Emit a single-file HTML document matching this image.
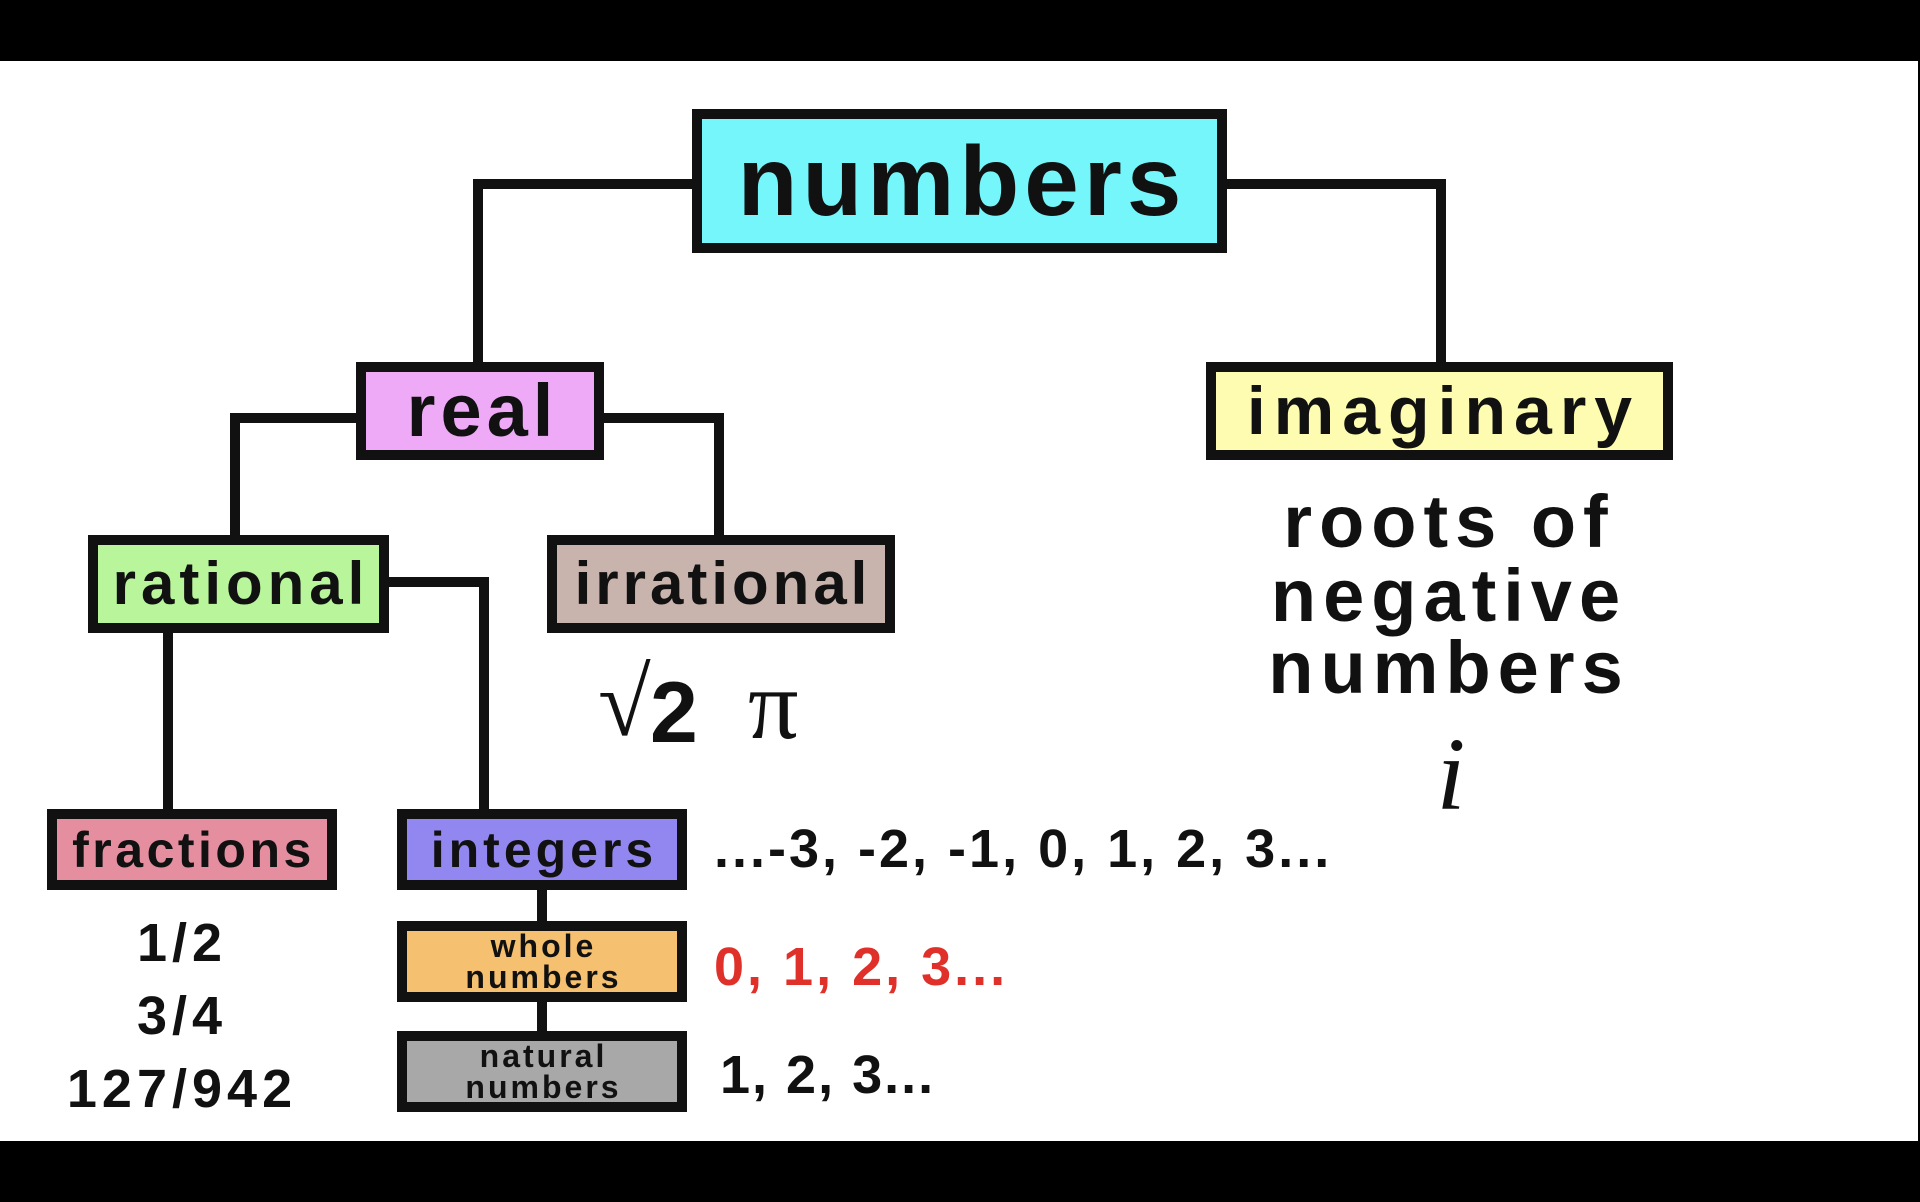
<!DOCTYPE html>
<html><head><meta charset="utf-8"><style>
*{margin:0;padding:0;box-sizing:border-box}
body{width:1920px;height:1202px;background:#000;position:relative;overflow:hidden;font-family:"Liberation Sans",sans-serif;font-weight:bold;color:#111}
#w{position:absolute;left:0;top:61px;width:1918px;height:1080px;background:#fff}
.b{position:absolute;border:10px solid #111;display:flex;align-items:center;justify-content:center;line-height:1;text-align:center}
.l{position:absolute;background:#111}
.t{position:absolute;line-height:1;white-space:nowrap}
.c{transform:translate(-50%,-50%)}
.lc{transform:translateY(-50%)}
</style></head><body>
<div id="w"></div>
<div class="l" style="left:473px;top:179px;width:224px;height:10px"></div>
<div class="l" style="left:473px;top:179px;width:10px;height:188px"></div>
<div class="l" style="left:1222px;top:179px;width:224px;height:10px"></div>
<div class="l" style="left:1436px;top:179px;width:10px;height:188px"></div>
<div class="l" style="left:230px;top:413px;width:131px;height:10px"></div>
<div class="l" style="left:230px;top:413px;width:10px;height:127px"></div>
<div class="l" style="left:599px;top:413px;width:125px;height:10px"></div>
<div class="l" style="left:714px;top:413px;width:10px;height:127px"></div>
<div class="l" style="left:384px;top:577px;width:105px;height:10px"></div>
<div class="l" style="left:479px;top:577px;width:10px;height:237px"></div>
<div class="l" style="left:163px;top:628px;width:10px;height:186px"></div>
<div class="l" style="left:537px;top:885px;width:10px;height:41px"></div>
<div class="l" style="left:537px;top:997px;width:10px;height:39px"></div>
<div class="b" style="left:692px;top:109px;width:535px;height:144px;background:#74f6fb;font-size:98px;letter-spacing:5px;padding-left:5px">numbers</div>
<div class="b" style="left:356px;top:362px;width:248px;height:98px;background:#eeaaf7;font-size:74px;letter-spacing:5px;padding-left:5px">real</div>
<div class="b" style="left:1206px;top:362px;width:467px;height:98px;background:#fdfcb0;font-size:68px;letter-spacing:8px;padding-left:8px">imaginary</div>
<div class="b" style="left:88px;top:535px;width:301px;height:98px;background:#b9f59b;font-size:60px;letter-spacing:5px;padding-left:5px">rational</div>
<div class="b" style="left:547px;top:535px;width:348px;height:98px;background:#c9b3ad;font-size:60px;letter-spacing:4px;padding-left:4px">irrational</div>
<div class="b" style="left:47px;top:809px;width:290px;height:81px;background:#e48ea0;font-size:50px;letter-spacing:3.5px;padding-left:3px">fractions</div>
<div class="b" style="left:397px;top:809px;width:290px;height:81px;background:#9287f0;font-size:50px;letter-spacing:4px;padding-left:4px">integers</div>
<div class="b" style="left:397px;top:921px;width:290px;height:81px;background:#f5c06f;font-size:32px;line-height:0.95;letter-spacing:3px;padding-left:3px">whole<br>numbers</div>
<div class="b" style="left:397px;top:1031px;width:290px;height:81px;background:#a8a8a8;font-size:32px;line-height:0.95;letter-spacing:3px;padding-left:3px">natural<br>numbers</div>
<div class="t c" style="left:1449px;top:522px;font-size:74px;letter-spacing:7px">roots of</div>
<div class="t c" style="left:1449px;top:596px;font-size:74px;letter-spacing:7px">negative</div>
<div class="t c" style="left:1449px;top:668px;font-size:74px;letter-spacing:7px">numbers</div>
<div class="t c" style="left:1451px;top:775px;font-size:104px;font-family:'Liberation Serif',serif;font-style:italic;font-weight:normal">i</div>
<div class="t" style="left:598px;top:655px;font-size:96px;font-family:'Liberation Serif',serif;font-weight:normal">√</div>
<div class="t" style="left:650px;top:670px;font-size:86px">2</div>
<div class="t" style="left:748px;top:655px;font-size:100px;font-family:'Liberation Serif',serif;font-weight:normal">π</div>
<div class="t lc" style="left:714px;top:849px;font-size:54px;letter-spacing:3px">...-3, -2, -1, 0, 1, 2, 3...</div>
<div class="t lc" style="left:714px;top:967px;font-size:54px;color:#e0302a;letter-spacing:3px">0, 1, 2, 3...</div>
<div class="t lc" style="left:720px;top:1075px;font-size:54px;letter-spacing:2px">1, 2, 3...</div>
<div class="t c" style="left:182px;top:943px;font-size:54px;letter-spacing:5px">1/2</div>
<div class="t c" style="left:182px;top:1016px;font-size:54px;letter-spacing:5px">3/4</div>
<div class="t c" style="left:182px;top:1089px;font-size:54px;letter-spacing:5px">127/942</div>
</body></html>
